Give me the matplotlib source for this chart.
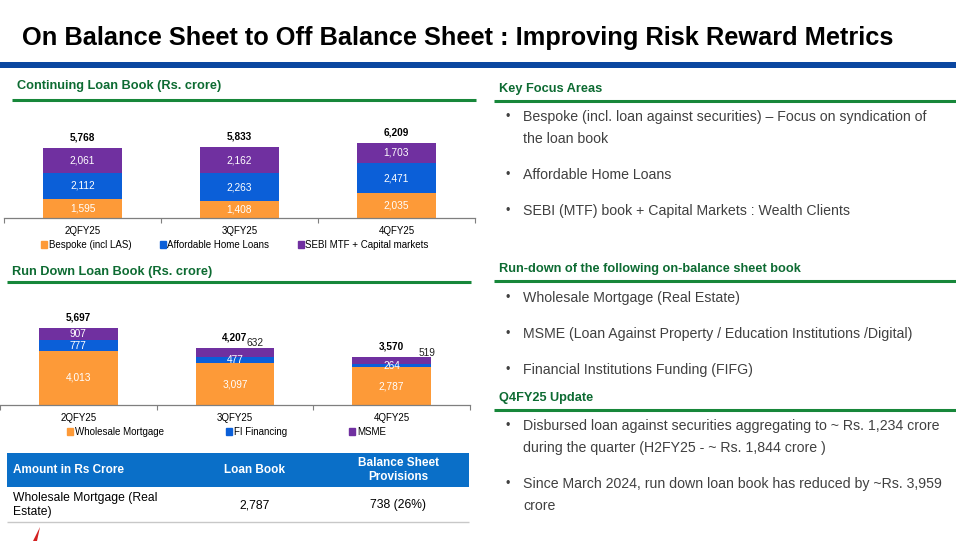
import numpy as np
import matplotlib
matplotlib.use('Agg')
import matplotlib.pyplot as plt
from matplotlib.patches import Patch, Rectangle, Polygon
from matplotlib.lines import Line2D

plt.rcParams['font.family'] = ['Liberation Sans', 'DejaVu Sans']

# ---------------- data ----------------
quarters = ['2QFY25', '3QFY25', '4QFY25']

cont_series = ['Bespoke (incl LAS)', 'Affordable Home Loans', 'SEBI MTF + Capital markets']
cont_bespoke = [1595, 1408, 2035]
cont_ahl = [2112, 2263, 2471]
cont_sebi = [2061, 2162, 1703]
cont_totals = [5768, 5833, 6209]

run_series = ['Wholesale Mortgage', 'FI Financing', 'MSME']
run_wholesale = [4013, 3097, 2787]
run_fi = [777, 477, 264]
run_msme = [907, 632, 519]
run_totals = [5697, 4207, 3570]

table_header = ['Amount in Rs Crore', 'Loan Book', 'Balance Sheet\nProvisions']
table_row = ['Wholesale Mortgage (Real\nEstate)', '2,787', '738 (26%)']

title = 'On Balance Sheet to Off Balance Sheet : Improving Risk Reward Metrics'
cont_title = 'Continuing Loan Book (Rs. crore)'
run_title = 'Run Down Loan Book (Rs. crore)'
focus_title = 'Key Focus Areas'
focus_items = ['Bespoke (incl. loan against securities) \u2013 Focus on syndication of\nthe loan book',
               'Affordable Home Loans',
               'SEBI (MTF) book + Capital Markets : Wealth Clients']
rundown_title = 'Run-down of the following on-balance sheet book'
rundown_items = ['Wholesale Mortgage (Real Estate)',
                 'MSME (Loan Against Property / Education Institutions /Digital)',
                 'Financial Institutions Funding (FIFG)']
update_title = 'Q4FY25 Update'
update_items = ['Disbursed loan against securities aggregating to ~ Rs. 1,234 crore\nduring the quarter (H2FY25 - ~ Rs. 1,844 crore )',
                'Since March 2024, run down loan book has reduced by ~Rs. 3,959\ncrore']

# ---------------- style ----------------
ORANGE = '#fd9a38'
BLUE = '#0b5fd8'
PURPLE = '#7030a0'
GREEN_T = '#0d6b32'
GREEN_L = '#17873a'
BAND = '#0b47a0'
HEAD = '#0a6fc8'
TXT = '#404040'

W, H, DPI = 956, 541, 100
fig = plt.figure(figsize=(W / DPI, H / DPI), dpi=DPI)
fig.patch.set_facecolor('white')


def box(l, t, r, b):
    return [l / W, 1 - b / H, (r - l) / W, (b - t) / H]


def T(x, y, s, **kw):
    kw.setdefault('va', 'center')
    return fig.text(x / W, 1 - y / H, s, **kw)


def hline(x0, x1, y, color, lw):
    fig.add_artist(Line2D([x0 / W, x1 / W], [1 - y / H, 1 - y / H], color=color, lw=lw,
                          transform=fig.transFigure, solid_capstyle='butt'))


# title and band
T(22, 38, title, fontsize=18.3, fontweight='bold', color='black')
fig.add_artist(Rectangle((0, 1 - 68 / H), 1, 6 / H, transform=fig.transFigure,
                         color=BAND, lw=0))


def stacked(axbox, series_vals, names, colors, totals, ymax, outside=None,
            legend_anchor=None, colspace=2.0):
    ax = fig.add_axes(axbox)
    x = np.arange(len(quarters))
    bottom = np.zeros(len(quarters))
    outside = outside or {}
    for si, (vals, c, name) in enumerate(zip(series_vals, colors, names)):
        vals = np.array(vals, dtype=float)
        ax.bar(x, vals, 0.5, bottom=bottom, color=c, label=name, linewidth=0)
        for qi in range(len(quarters)):
            lbl = f'{int(vals[qi]):,}'
            if (si, qi) in outside:
                dx, dy = outside[(si, qi)]
                ax.annotate(lbl, (x[qi], bottom[qi] + vals[qi]), xytext=(dx * 0.72, dy * 0.72),
                            textcoords='offset points', ha='center', va='center',
                            fontsize=7.3, color='#202020')
            else:
                ax.text(x[qi], bottom[qi] + vals[qi] / 2, lbl, ha='center', va='center',
                        fontsize=7.3, color='white')
        bottom += vals
    for qi in range(len(quarters)):
        ax.annotate(f'{totals[qi]:,}', (x[qi], totals[qi]), xytext=(0, 7.5),
                    textcoords='offset points', ha='center', va='center',
                    fontsize=7.2, fontweight='bold', color='black')
    ax.set_xlim(-0.5, len(quarters) - 0.5)
    ax.set_ylim(0, ymax)
    for s in ['top', 'left', 'right']:
        ax.spines[s].set_visible(False)
    ax.spines['bottom'].set_color('#7f7f7f')
    ax.spines['bottom'].set_linewidth(0.9)
    ax.set_yticks([])
    ax.set_xticks(x)
    ax.set_xticklabels(quarters, fontsize=7, color='black')
    ax.set_xticks(np.arange(-0.5, len(quarters)), minor=True)
    ax.tick_params(axis='x', which='major', length=0, pad=6)
    ax.tick_params(axis='x', which='minor', length=3.5, width=0.8, color='#7f7f7f', direction='out')
    ax.patch.set_alpha(0)
    handles = [Patch(color=c, label=n) for c, n in zip(colors, names)]
    fig.legend(handles=handles, loc='center left', bbox_to_anchor=legend_anchor,
               bbox_transform=fig.transFigure, ncol=3, frameon=False, fontsize=7,
               handlelength=0.65, handleheight=0.65, handletextpad=0.15,
               columnspacing=colspace, borderpad=0, borderaxespad=0)
    return ax


# ---- left: continuing loan book ----
T(17, 86, cont_title, fontsize=9.2, fontweight='bold', color=GREEN_T)
hline(12, 476, 100, GREEN_L, 2.2)
stacked(box(4, 108, 475, 218), [cont_bespoke, cont_ahl, cont_sebi], cont_series,
        [ORANGE, BLUE, PURPLE], cont_totals, 5768 * 110 / 70,
        legend_anchor=(41 / W, 1 - 245 / H), colspace=2.9)

# ---- left: run down loan book ----
T(12, 272, run_title, fontsize=9.2, fontweight='bold', color=GREEN_T)
hline(7, 471, 282, GREEN_L, 2.2)
stacked(box(0, 290, 470, 405), [run_wholesale, run_fi, run_msme], run_series,
        [ORANGE, BLUE, PURPLE], run_totals, 5697 * 115 / 77,
        outside={(2, 1): (20, 5), (2, 2): (35, 4)},
        legend_anchor=(67 / W, 1 - 432 / H), colspace=6.4)

# ---- table ----
fig.add_artist(Rectangle((7 / W, 1 - 487 / H), 462 / W, 34 / H, transform=fig.transFigure,
                         color=HEAD, lw=0))
T(13, 470, table_header[0], fontsize=8.5, fontweight='bold', color='white', ha='left')
T(255, 470, table_header[1], fontsize=8.5, fontweight='bold', color='white', ha='center')
T(398, 470, table_header[2], fontsize=8.5, fontweight='bold', color='white', ha='center',
  linespacing=1.2)
T(13, 505, table_row[0], fontsize=8.7, color='black', ha='left', linespacing=1.2)
T(255, 505, table_row[1], fontsize=8.7, color='black', ha='center')
T(398, 505, table_row[2], fontsize=8.7, color='black', ha='center')
hline(7, 469, 522, '#c8c8c8', 1.0)
fig.add_artist(Polygon([(33 / W, 0), (40 / W, 1 - 527 / H), (37 / W, 0)],
                       transform=fig.transFigure, color='#d42020', lw=0))


# ---- right text panel ----
def section(ty, ly, head, items, ys):
    T(499, ty, head, fontsize=9.2, fontweight='bold', color=GREEN_T)
    hline(494, 956, ly, GREEN_L, 2.2)
    for it, y in zip(items, ys):
        T(506, y, '\u2022', fontsize=9, color=TXT)
        for k, line in enumerate(it.split('\n')):
            T(523, y + 22 * k, line, fontsize=10.2, color=TXT)


section(89, 101, focus_title, focus_items, [117, 175, 211])
section(269, 281, rundown_title, rundown_items, [298, 334, 370])
section(398, 410, update_title, update_items, [426, 484])

fig.savefig('out.png', dpi=DPI)
